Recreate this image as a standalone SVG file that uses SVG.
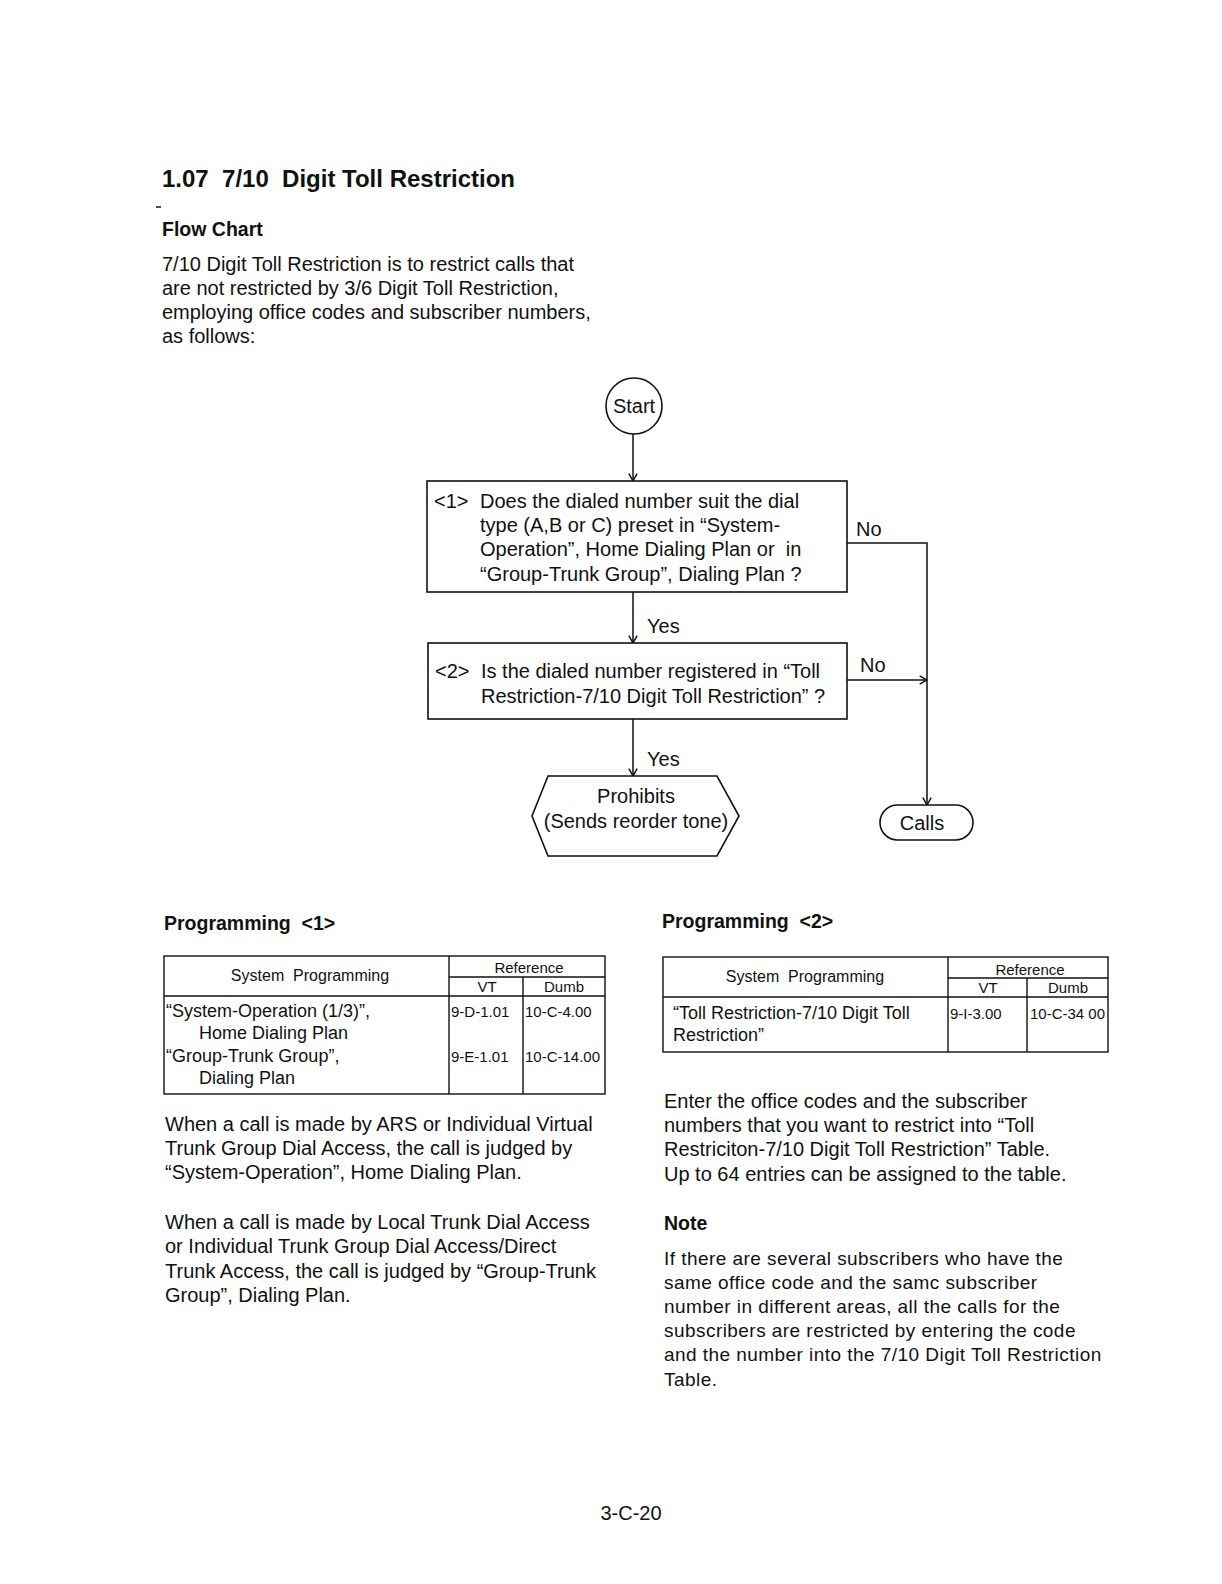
<svg xmlns="http://www.w3.org/2000/svg" width="1222" height="1584" viewBox="0 0 1222 1584">
<defs>
<style>
text{font-family:"Liberation Sans",Arial,Helvetica,sans-serif;fill:#111}
.h1{font-size:24px;font-weight:bold}
.h2{font-size:19.5px;font-weight:bold}
.p{font-size:20px}
.n{font-size:19px;letter-spacing:0.45px}
.b{font-size:20px}
.t{font-size:16px}
.tc{font-size:18px}
.ts{font-size:15px}
.shape{fill:#fff;stroke:#111;stroke-width:1.6}
.ln{fill:none;stroke:#111;stroke-width:1.5}
.tl{fill:none;stroke:#111;stroke-width:1.4}
</style>
<marker id="arr" viewBox="0 0 12 12" refX="11" refY="6" markerWidth="11" markerHeight="11" markerUnits="userSpaceOnUse" orient="auto">
<path d="M3,1.5 L11,6 L3,10.5" fill="none" stroke="#111" stroke-width="1.6"/>
</marker>
</defs>
<rect width="1222" height="1584" fill="#fff"/>

<g id="header">
<text class="h1" x="162" y="187" xml:space="preserve">1.07  7/10  Digit Toll Restriction</text>
<line x1="156" y1="207" x2="161" y2="207" stroke="#111" stroke-width="1.5"/>
<text class="h2" x="162" y="236">Flow Chart</text>
<text class="p" x="162" y="271">7/10 Digit Toll Restriction is to restrict calls that</text>
<text class="p" x="162" y="295">are not restricted by 3/6 Digit Toll Restriction,</text>
<text class="p" x="162" y="319">employing office codes and subscriber numbers,</text>
<text class="p" x="162" y="343">as follows:</text>
</g>

<g id="connectors">
<line class="ln" x1="633" y1="434" x2="633" y2="481" marker-end="url(#arr)"/>
<line class="ln" x1="633" y1="592" x2="633" y2="643" marker-end="url(#arr)"/>
<line class="ln" x1="633" y1="719" x2="633" y2="776" marker-end="url(#arr)"/>
<polyline class="ln" points="847,543 927,543 927,805" marker-end="url(#arr)"/>
<line class="ln" x1="847" y1="680" x2="927" y2="680" marker-end="url(#arr)"/>
<text class="b" x="647" y="633">Yes</text>
<text class="b" x="647" y="766">Yes</text>
<text class="b" x="856" y="536">No</text>
<text class="b" x="860" y="672">No</text>
</g>

<g id="start">
<circle class="shape" cx="634" cy="406" r="28"/>
<text class="b" x="634" y="413" text-anchor="middle">Start</text>
</g>

<g id="q1">
<rect class="shape" x="427" y="481" width="420" height="111"/>
<text class="b" x="434" y="508">&lt;1&gt;</text>
<text class="b" x="480" y="508">Does the dialed number suit the dial</text>
<text class="b" x="480" y="532">type (A,B or C) preset in “System-</text>
<text class="b" x="480" y="556" xml:space="preserve">Operation”, Home Dialing Plan or  in</text>
<text class="b" x="480" y="581">“Group-Trunk Group”, Dialing Plan ?</text>
</g>

<g id="q2">
<rect class="shape" x="428" y="643" width="419" height="76"/>
<text class="b" x="435" y="678">&lt;2&gt;</text>
<text class="b" x="481" y="678">Is the dialed number registered in “Toll</text>
<text class="b" x="481" y="703">Restriction-7/10 Digit Toll Restriction” ?</text>
</g>

<g id="prohibits">
<polygon class="shape" points="548,776 717,776 739,816 717,856 548,856 532,816"/>
<text class="b" x="636" y="803" text-anchor="middle">Prohibits</text>
<text class="b" x="636" y="828" text-anchor="middle">(Sends reorder tone)</text>
</g>

<g id="calls">
<rect class="shape" x="880" y="805" width="93" height="35" rx="17.5"/>
<text class="b" x="922" y="830" text-anchor="middle">Calls</text>
</g>

<g id="programming1">
<text class="h2" x="164" y="930" xml:space="preserve">Programming  &lt;1&gt;</text>
<rect class="tl" x="164" y="956" width="441" height="138"/>
<line class="tl" x1="449" y1="956" x2="449" y2="1094"/>
<line class="tl" x1="449" y1="977" x2="605" y2="977"/>
<line class="tl" x1="164" y1="996" x2="605" y2="996"/>
<line class="tl" x1="523" y1="977" x2="523" y2="1094"/>
<text class="t" x="310" y="981" text-anchor="middle" xml:space="preserve">System  Programming</text>
<text class="ts" x="529" y="973" text-anchor="middle">Reference</text>
<text class="ts" x="487" y="992" text-anchor="middle">VT</text>
<text class="ts" x="564" y="992" text-anchor="middle">Dumb</text>
<text class="tc" x="166" y="1017">“System-Operation (1/3)”,</text>
<text class="tc" x="199" y="1039">Home Dialing Plan</text>
<text class="tc" x="166" y="1062">“Group-Trunk Group”,</text>
<text class="tc" x="199" y="1084">Dialing Plan</text>
<text class="ts" x="451" y="1017">9-D-1.01</text>
<text class="ts" x="525" y="1017">10-C-4.00</text>
<text class="ts" x="451" y="1062">9-E-1.01</text>
<text class="ts" x="525" y="1062">10-C-14.00</text>
</g>

<g id="programming1-text">
<text class="p" x="165" y="1131">When a call is made by ARS or Individual Virtual</text>
<text class="p" x="165" y="1155">Trunk Group Dial Access, the call is judged by</text>
<text class="p" x="165" y="1179">“System-Operation”, Home Dialing Plan.</text>
<text class="p" x="165" y="1229">When a call is made by Local Trunk Dial Access</text>
<text class="p" x="165" y="1253">or Individual Trunk Group Dial Access/Direct</text>
<text class="p" x="165" y="1278">Trunk Access, the call is judged by “Group-Trunk</text>
<text class="p" x="165" y="1302">Group”, Dialing Plan.</text>
</g>

<g id="programming2">
<text class="h2" x="662" y="928" xml:space="preserve">Programming  &lt;2&gt;</text>
<rect class="tl" x="663" y="957" width="445" height="95"/>
<line class="tl" x1="948" y1="957" x2="948" y2="1052"/>
<line class="tl" x1="948" y1="978" x2="1108" y2="978"/>
<line class="tl" x1="663" y1="997" x2="1108" y2="997"/>
<line class="tl" x1="1027" y1="978" x2="1027" y2="1052"/>
<text class="t" x="805" y="982" text-anchor="middle" xml:space="preserve">System  Programming</text>
<text class="ts" x="1030" y="975" text-anchor="middle">Reference</text>
<text class="ts" x="988" y="993" text-anchor="middle">VT</text>
<text class="ts" x="1068" y="993" text-anchor="middle">Dumb</text>
<text class="tc" x="673" y="1019">“Toll Restriction-7/10 Digit Toll</text>
<text class="tc" x="673" y="1041">Restriction”</text>
<text class="ts" x="950" y="1019">9-I-3.00</text>
<text class="ts" x="1030" y="1019">10-C-34 00</text>
</g>

<g id="programming2-text">
<text class="p" x="664" y="1108">Enter the office codes and the subscriber</text>
<text class="p" x="664" y="1132">numbers that you want to restrict into “Toll</text>
<text class="p" x="664" y="1156">Restriciton-7/10 Digit Toll Restriction” Table.</text>
<text class="p" x="664" y="1181">Up to 64 entries can be assigned to the table.</text>
<text class="h2" x="664" y="1230">Note</text>
<text class="n" x="664" y="1265">If there are several subscribers who have the</text>
<text class="n" x="664" y="1289">same office code and the samc subscriber</text>
<text class="n" x="664" y="1313">number in different areas, all the calls for the</text>
<text class="n" x="664" y="1337">subscribers are restricted by entering the code</text>
<text class="n" x="664" y="1361">and the number into the 7/10 Digit Toll Restriction</text>
<text class="n" x="664" y="1386">Table.</text>
</g>

<g id="footer">
<text class="p" x="631" y="1520" text-anchor="middle">3-C-20</text>
</g>
</svg>
